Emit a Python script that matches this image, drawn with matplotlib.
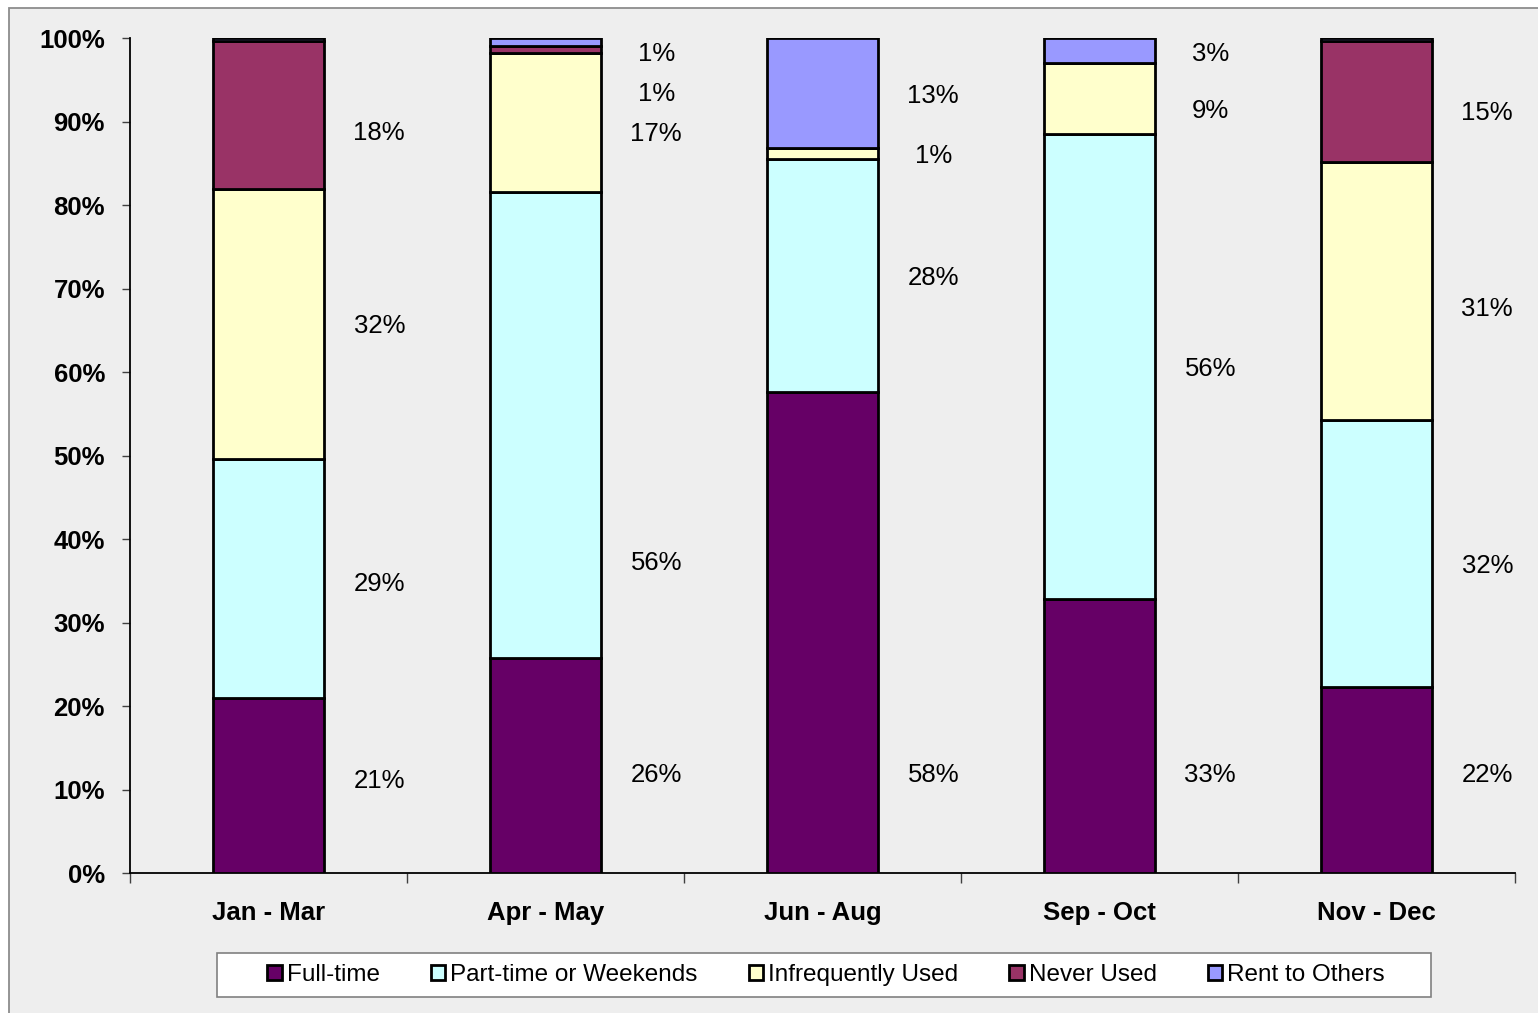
import math
import matplotlib
matplotlib.use("Agg")
import matplotlib.pyplot as plt
from matplotlib.patches import Rectangle
import numpy as np

plt.rcParams['font.family'] = ['Liberation Sans', 'DejaVu Sans']

categories = ["Jan - Mar", "Apr - May", "Jun - Aug", "Sep - Oct", "Nov - Dec"]
series_names = ["Full-time", "Part-time or Weekends", "Infrequently Used", "Never Used", "Rent to Others"]
full_time = [21.0, 25.7, 57.6, 32.8, 22.3]
part_time = [28.6, 55.9, 27.9, 55.7, 32.0]
infrequent = [32.3, 16.6, 1.3, 8.5, 30.8]
never_used = [17.8, 0.8, 0.0, 0.0, 14.6]
rent_others = [0.3, 1.0, 13.2, 3.0, 0.3]
y_ticks = [0, 10, 20, 30, 40, 50, 60, 70, 80, 90, 100]

colors = ["#660066", "#CCFFFF", "#FFFFCC", "#993366", "#9999FF"]
series = [full_time, part_time, infrequent, never_used, rent_others]

# label layout (annotation placement only)
first_label_height = 12.0
label_nudge = {(0, 0): -0.7, (0, 1): -0.4, (0, 3): -1.9, (1, 1): -16.2,
               (3, 2): -1.2, (4, 1): -1.2, (4, 2): -1.8, (4, 3): -1.1}
min_gap = 4.8
top_cap = 98.4

fig = plt.figure(figsize=(15.38, 10.13), dpi=100, facecolor="white")
fig.patches.append(Rectangle((8.5 / 1538, -0.05), 1.2, 1 - 7.5 / 1013 + 0.05,
                             transform=fig.transFigure, facecolor="#EEEEEE",
                             edgecolor="#8C8C8C", linewidth=1.3, zorder=-10))

ax = fig.add_axes([130 / 1538, (1013 - 873) / 1013, (1515 - 130) / 1538, (873 - 38) / 1013])
ax.set_facecolor("#EEEEEE")
ax.patch.set_alpha(0)

x = np.arange(len(categories))
bar_w = 0.404
bottom = np.zeros(len(categories))
handles = []
for vals, col, name in zip(series, colors, series_names):
    v = np.array(vals)
    b = ax.bar(x, v, bar_w, bottom=bottom, color=col, edgecolor="black",
               linewidth=2.0, label=name, zorder=3)
    handles.append(b)
    bottom = bottom + v

# data labels
for ci in range(len(categories)):
    cum = 0.0
    mids = []
    for si, vals in enumerate(series):
        v = vals[ci]
        mids.append((si, cum + v / 2.0, v))
        cum += v
    shown = [(si, m, v) for si, m, v in mids if v >= 0.5]
    placed = {}
    prev = None
    for si, m, v in reversed(shown):
        y = min(m, top_cap)
        if prev is not None:
            y = min(y, prev - min_gap)
        placed[si] = y
        prev = y
    for si, m, v in shown:
        y = placed[si]
        if si == 0:
            y = first_label_height
        y += label_nudge.get((ci, si), 0.0)
        ax.text(x[ci] + 0.4, y, f"{int(math.floor(v + 0.5))}%", ha="center",
                va="center_baseline", fontsize=18.5, color="black", zorder=4)

ax.set_xlim(-0.5, len(categories) - 0.5)
ax.set_ylim(0, 100)
ax.set_yticks(y_ticks)
ax.set_yticklabels([f"{t}%" for t in y_ticks], fontsize=18.5, fontweight="bold")
ax.set_xticks(x)
ax.set_xticklabels(categories, fontsize=18.5, fontweight="bold")
ax.set_xticks(np.arange(-0.5, len(categories)), minor=True)
ax.tick_params(axis="x", which="major", length=0, pad=20)
ax.tick_params(axis="x", which="minor", length=7, width=1, color="#404040", direction="out")
ax.tick_params(axis="y", which="major", length=6, width=1, color="#404040", direction="out", pad=12)
for s in ["top", "right"]:
    ax.spines[s].set_visible(False)
for s in ["left", "bottom"]:
    ax.spines[s].set_color("black")
    ax.spines[s].set_linewidth(1.3)

# legend frame drawn separately for its wide inner padding
fig.patches.append(Rectangle((217 / 1538, 1 - 997 / 1013), (1431 - 217) / 1538, 44 / 1013,
                             transform=fig.transFigure, facecolor="white",
                             edgecolor="#808080", linewidth=1.2, zorder=1))
leg = fig.legend(handles=handles, labels=series_names, loc="center",
                 bbox_to_anchor=(826 / 1538, 1 - 975 / 1013), ncol=5, fontsize=17.5,
                 frameon=False, handlelength=0.6, handleheight=0.6, handletextpad=0.2,
                 columnspacing=2.1, borderpad=0.3, borderaxespad=0)
for h in leg.legend_handles:
    h.set_linewidth(2.0)

fig.savefig("out.png", dpi=100, facecolor=fig.get_facecolor())
